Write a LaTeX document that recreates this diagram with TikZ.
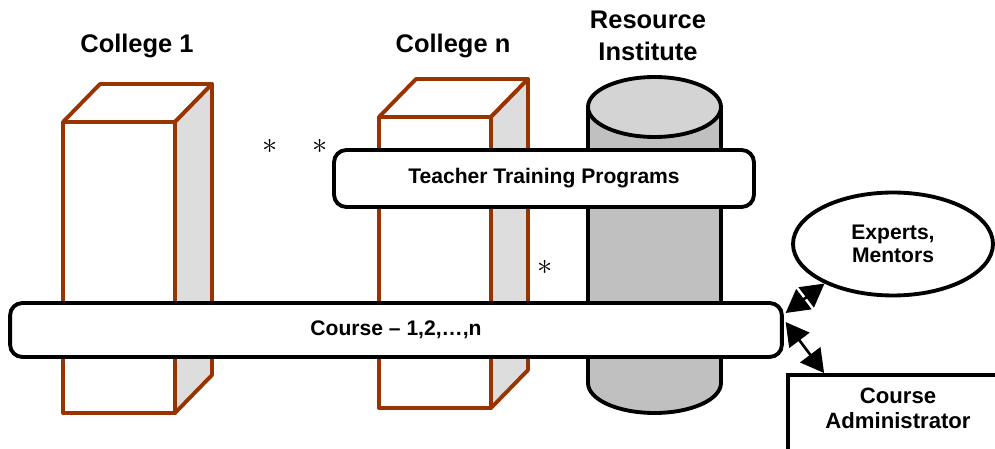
\documentclass[tikz,border=0pt]{standalone}
\usepackage{fontspec}
\setmainfont{Liberation Sans}
\usetikzlibrary{positioning,shapes.geometric,arrows.meta}

\definecolor{brick}{RGB}{153,51,0}
\definecolor{sidegray}{RGB}{221,221,221}
\definecolor{drumgray}{RGB}{192,192,192}
\definecolor{lidgray}{RGB}{212,212,212}

\begin{document}
\begin{tikzpicture}[x=0.02cm, y=-0.02cm,
    title/.style={font=\fontsize{14.5}{18}\selectfont\bfseries, align=center},
    bar/.style={draw, line width=2.2pt, rounded corners=7pt, fill=white,
      font=\fontsize{12}{14}\selectfont\bfseries},
    col/.style={draw=brick, line width=2.2pt, line join=round},
    side/.style={draw, line width=2.2pt, fill=white, align=center,
      font=\fontsize{12}{13}\selectfont\bfseries},
    tip/.tip={Triangle[length=0.46cm,width=0.5cm]},
    link/.style={tip-tip, line width=1.5pt},
    more/.style={font=\fontsize{16}{20}\selectfont}]
  \useasboundingbox (0,0) rectangle (995,449);

  % colleges: front face, top, shaded side
  \foreach \name/\x/\y in {1/63/122, n/379/117} {
    \draw[col, fill=white] (\x,\y) rectangle ++(112,291);
    \draw[col, fill=white] (\x,\y) -- ++(37,-38) -- ++(112,0) -- ++(-37,38) -- cycle;
    \draw[col, fill=sidegray] (\x+112,\y) -- ++(37,-38) -- ++(0,291) -- ++(-37,38) -- cycle;
    \node[title] (college\name) at (\x+74,46) {College \name};
  }

  % resource institute drum
  \coordinate (drumtop) at (654.5,107);
  \draw[line width=2.2pt, fill=drumgray] (588,107) -- (588,383)
    arc[start angle=180, end angle=360, x radius=1.33cm, y radius=0.6cm] -- (721,107) -- cycle;
  \draw[line width=2.2pt, fill=lidgray] (drumtop) ellipse [x radius=1.33cm, y radius=0.6cm];
  \node[title] (resource) at (648,36) {Resource\\Institute};

  \node[bar, minimum width=8.4cm, minimum height=1.14cm] (training) at (544,178.5) {Teacher Training Programs};
  \node[bar, minimum width=15.44cm, minimum height=1.08cm] (course) at (396,330) {Course -- 1,2,…,n};

  \node[side, ellipse, inner sep=0pt, minimum width=4cm, minimum height=2.06cm] (experts) at (893,244) {Experts,\\Mentors};
  \node[side, font=\fontsize{12.6}{14}\selectfont\bfseries, minimum width=4.4cm, minimum height=1.6cm,
    text depth=0.27cm] (admin) at (898,415) {Course\\Administrator};

  \draw[link] ([xshift=1pt,yshift=0.34cm]course.east) -- (experts.210);
  \draw[link] ([xshift=1pt,yshift=0.16cm]course.east) -- ([xshift=0.76cm]admin.north west);

  % more colleges in between
  \node[more] (more1) at (270,146) {$\ast$};
  \node[more] (more2) at (320,146) {$\ast$};
  \node[more] (more3) at (545,267) {$\ast$};
\end{tikzpicture}
\end{document}
